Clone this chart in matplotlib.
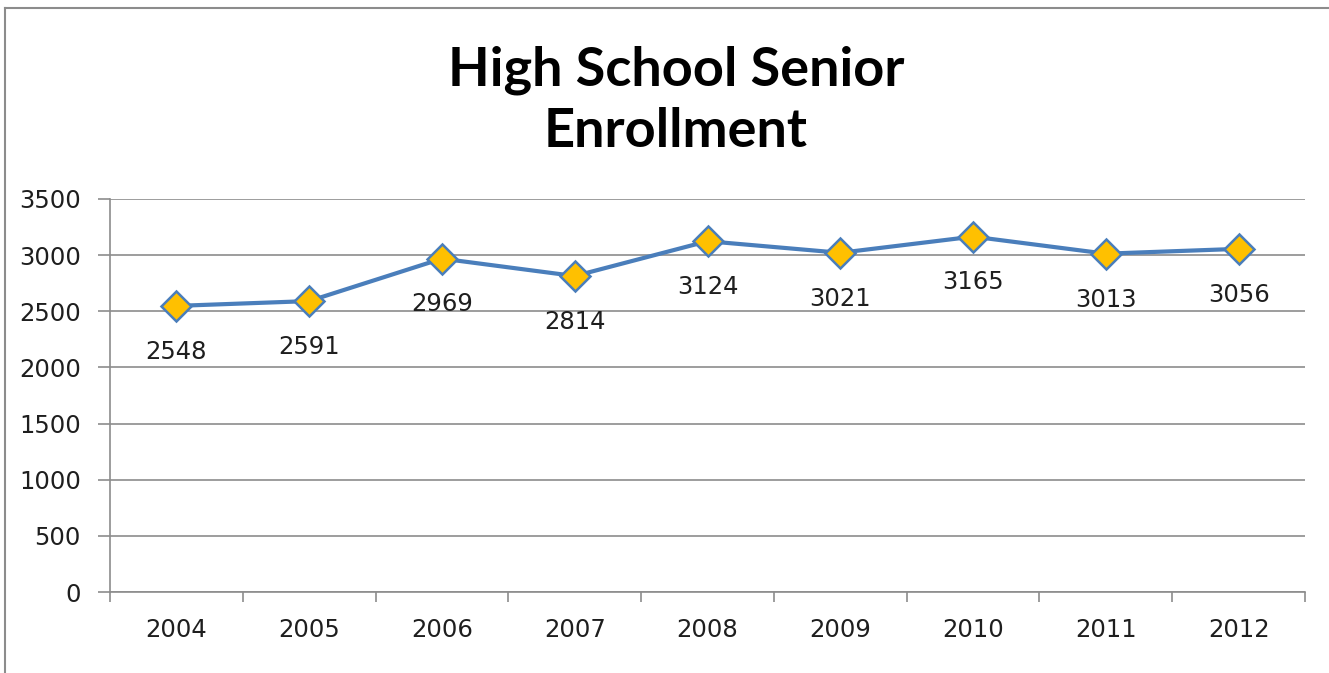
import matplotlib
matplotlib.use('Agg')
import matplotlib.pyplot as plt
from matplotlib.lines import Line2D
import numpy as np

years = ['2004', '2005', '2006', '2007', '2008', '2009', '2010', '2011', '2012']
enrollment = [2548, 2591, 2969, 2814, 3124, 3021, 3165, 3013, 3056]
yticks = [0, 500, 1000, 1500, 2000, 2500, 3000, 3500]

W, H, DPI = 1329, 673, 100
LINE = '#4A7EBB'
GOLD = '#FFC000'
GRID = '#8C8C8C'
TXT = '#1E1E1E'

plt.rcParams['font.family'] = ['DejaVu Sans']

fig = plt.figure(figsize=(W / DPI, H / DPI), dpi=DPI)
ax = fig.add_axes([110 / W, 1 - 592 / H, (1305 - 110) / W, (592 - 199) / H])

x = np.arange(len(years))
ax.plot(x, enrollment, color=LINE, lw=3, marker='D', ms=15,
        mfc=GOLD, mec=LINE, mew=1.8, zorder=3)
for xi, v in zip(x, enrollment):
    ax.annotate(str(v), (xi, v), xytext=(0, -33), textcoords='offset points',
                ha='center', va='center', fontsize=17.5, color=TXT)

ax.set_xlim(-0.5, len(years) - 0.5)
ax.set_ylim(0, 3500)
ax.set_yticks(yticks)
ax.set_yticklabels([str(t) for t in yticks])
ax.yaxis.grid(True, color=GRID, lw=1.2)
ax.set_axisbelow(True)

ax.set_xticks(np.arange(-0.5, len(years)), minor=False)
ax.set_xticklabels([])
ax.set_xticks(x, minor=True)
ax.set_xticklabels(years, minor=True)
ax.tick_params(axis='x', which='major', length=7, width=1.2, color=GRID)
ax.tick_params(axis='x', which='minor', length=0, pad=19, labelsize=17.5,
               labelcolor=TXT)
ax.tick_params(axis='y', length=9, width=1.2, color=GRID, pad=12,
               labelsize=17.5, labelcolor=TXT)

for s in ['top', 'right']:
    ax.spines[s].set_visible(False)
for s in ['left', 'bottom']:
    ax.spines[s].set_color(GRID)
    ax.spines[s].set_linewidth(1.2)

fig.text(676 / W, 1 - 101 / H, 'High School Senior\nEnrollment',
         ha='center', va='center', fontsize=39, fontweight='bold',
         family=['Lato', 'DejaVu Sans'], linespacing=1.3)

# outer chart border (left and top edges visible)
fig.add_artist(Line2D([5 / W, 5 / W], [0, 1 - 8 / H], transform=fig.transFigure,
                      color='#8C8C8C', lw=1.5))
fig.add_artist(Line2D([5 / W, 1], [1 - 8 / H, 1 - 8 / H], transform=fig.transFigure,
                      color='#8C8C8C', lw=1.5))

fig.savefig('out.png', dpi=DPI)
